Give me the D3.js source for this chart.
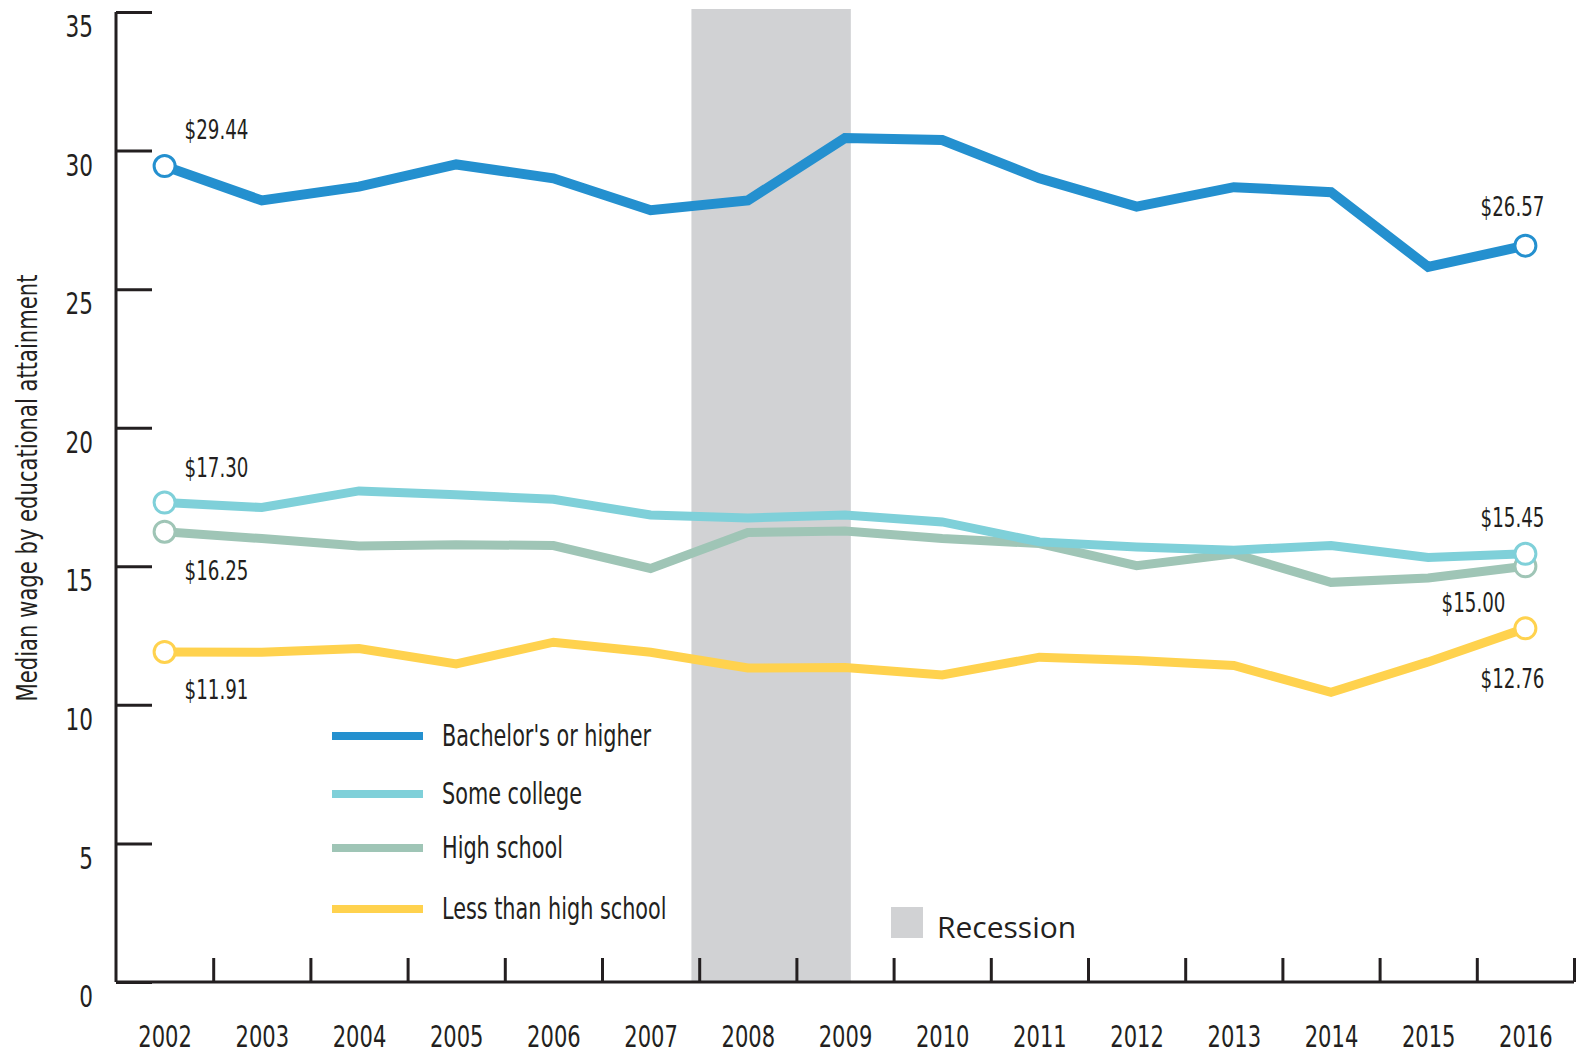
<!DOCTYPE html>
<html>
<head>
<meta charset="utf-8">
<script src="https://cdn.jsdelivr.net/npm/d3@7"></script>
<style>
  body { margin: 0; background: #fff; }
  svg text { font-family: "DejaVu Sans Condensed", "DejaVu Sans", sans-serif; fill: #231f20; }
  .axis path, .axis line { stroke: #231f20; stroke-width: 3; }
</style>
</head>
<body>
<svg id="chart" width="1583" height="1056"></svg>
<script>
var years = [2002, 2003, 2004, 2005, 2006, 2007, 2008, 2009, 2010, 2011, 2012, 2013, 2014, 2015, 2016];
var bachelors = [29.44, 28.2, 28.7, 29.5, 29.0, 27.85, 28.2, 30.45, 30.38, 29.0, 27.98, 28.68, 28.5, 25.8, 26.57];
var someCollege = [17.30, 17.12, 17.72, 17.58, 17.42, 16.85, 16.74, 16.85, 16.6, 15.88, 15.7, 15.58, 15.75, 15.32, 15.45];
var highSchool = [16.25, 16.0, 15.73, 15.78, 15.75, 14.92, 16.22, 16.27, 16.0, 15.82, 15.02, 15.45, 14.42, 14.58, 15.00];
var lessThanHS = [11.91, 11.9, 12.03, 11.48, 12.26, 11.9, 11.33, 11.35, 11.08, 11.72, 11.6, 11.42, 10.45, 11.55, 12.76];
var seriesNames = ["Bachelor's or higher", "Some college", "High school", "Less than high school"];
var seriesColors = ["#2490cf", "#7fd0d9", "#9fc5b6", "#ffd24e"];
var seriesWidths = [10, 9, 9, 9];
var yTicks = [0, 5, 10, 15, 20, 25, 30, 35];
var recession = [2007.42, 2009.06];

var svg = d3.select("#chart");

var x = d3.scaleLinear().domain([2001.5, 2016.5]).range([116, 1574]);
var y = d3.scaleLinear().domain([0, 35]).range([982, 12]);

// squeeze text horizontally to get the narrow look of the original font
function condense(sel, k) {
    sel.each(function() {
        var w = this.getComputedTextLength();
        d3.select(this).attr("textLength", w * k).attr("lengthAdjust", "spacingAndGlyphs");
    });
}

// recession band
svg.append("rect")
    .attr("x", x(recession[0]))
    .attr("y", 9)
    .attr("width", x(recession[1]) - x(recession[0]))
    .attr("height", y(0) - 9)
    .style("fill", "#d1d2d4");

// y axis
var yAxis = svg.append("g").attr("class", "axis")
    .attr("transform", "translate(" + x(2001.5) + ",0)")
    .call(d3.axisLeft(y).tickValues(yTicks).tickSizeInner(-36).tickSizeOuter(0).tickPadding(23));
yAxis.selectAll("text").attr("dy", "0.32em").attr("y", 15).style("font-size", "30px").style("fill", "#231f20");
yAxis.select(".domain").attr("d", "M0," + y(35) + "V" + y(0));
condense(yAxis.selectAll("text"), 0.8);

// x axis ticks at band edges
var edges = years.map(function(d) { return d + 0.5; });
var xAxis = svg.append("g").attr("class", "axis")
    .attr("transform", "translate(0," + y(0) + ")")
    .call(d3.axisBottom(x).tickValues(edges).tickSizeInner(-24).tickSizeOuter(0).tickFormat(""));
xAxis.select(".domain").attr("d", "M" + x(2001.5) + ",0H" + x(2016.5));

// x labels at band centres
var xLabels = svg.append("g")
    .attr("transform", "translate(0," + y(0) + ")")
    .call(d3.axisBottom(x).tickValues(years).tickSize(0).tickPadding(44).tickFormat(d3.format("d")));
xLabels.select(".domain").remove();
xLabels.selectAll("text").style("font-size", "30px").style("fill", "#231f20");
condense(xLabels.selectAll("text"), 0.78);

// y title
var yTitle = svg.append("text")
    .attr("transform", "translate(37,488) rotate(-90)")
    .attr("text-anchor", "middle")
    .style("font-size", "29px")
    .text("Median wage by educational attainment");
condense(yTitle, 0.81);

var allSeries = [bachelors, someCollege, highSchool, lessThanHS];
var line = d3.line()
    .x(function(d, i) { return x(years[i]); })
    .y(function(d) { return y(d); });

// draw bottom series first so bachelor's sits on top
for (var s = allSeries.length - 1; s >= 0; s--) {
    svg.append("path")
        .datum(allSeries[s])
        .attr("d", line)
        .style("fill", "none")
        .style("stroke", seriesColors[s])
        .style("stroke-width", seriesWidths[s])
        .style("stroke-linejoin", "miter");
}
for (var s = allSeries.length - 1; s >= 0; s--) {
    var ends = [0, years.length - 1];
    svg.selectAll(null).data(ends).enter().append("circle")
        .attr("cx", function(i) { return x(years[i]); })
        .attr("cy", function(i) { return y(allSeries[s][i]); })
        .attr("r", 10.5)
        .style("fill", "#fff")
        .style("stroke", seriesColors[s])
        .style("stroke-width", 3);
}

// end value labels: [series, index, dx, dy, anchor]
var endLabels = [
    [0, 0, 20, -27, "start"], [0, 14, 19, -30, "end"],
    [1, 0, 20, -26, "start"], [1, 14, 19, -27, "end"],
    [2, 0, 20, 48, "start"], [2, 14, -20, 46, "end"],
    [3, 0, 20, 47, "start"], [3, 14, 19, 60, "end"]
];
var valueText = svg.selectAll(null).data(endLabels).enter().append("text")
    .attr("x", function(d) { return x(years[d[1]]) + d[2]; })
    .attr("y", function(d) { return y(allSeries[d[0]][d[1]]) + d[3]; })
    .attr("text-anchor", function(d) { return d[4]; })
    .style("font-size", "26px")
    .text(function(d) { return "$" + d3.format(".2f")(allSeries[d[0]][d[1]]); });
condense(valueText, 0.78);

// legend
var legendY = [736, 794, 848, 909];
var legend = svg.selectAll("g.legend").data(seriesNames).enter().append("g")
    .attr("class", "legend")
    .attr("transform", function(d, i) { return "translate(332," + legendY[i] + ")"; });
legend.append("line")
    .attr("x1", 0).attr("x2", 91)
    .style("stroke", function(d, i) { return seriesColors[i]; })
    .style("stroke-width", 8);
var legendText = legend.append("text")
    .attr("x", 110)
    .attr("y", 10)
    .style("font-size", "31px")
    .text(function(d) { return d; });
condense(legendText, 0.745);

// recession key
svg.append("rect")
    .attr("x", 891).attr("y", 907).attr("width", 32).attr("height", 31)
    .style("fill", "#d1d2d4");
svg.append("text")
    .attr("x", 937).attr("y", 938)
    .style("font-family", "'Open Sans', sans-serif")
    .style("font-size", "30px")
    .text("Recession");
</script>
</body>
</html>
